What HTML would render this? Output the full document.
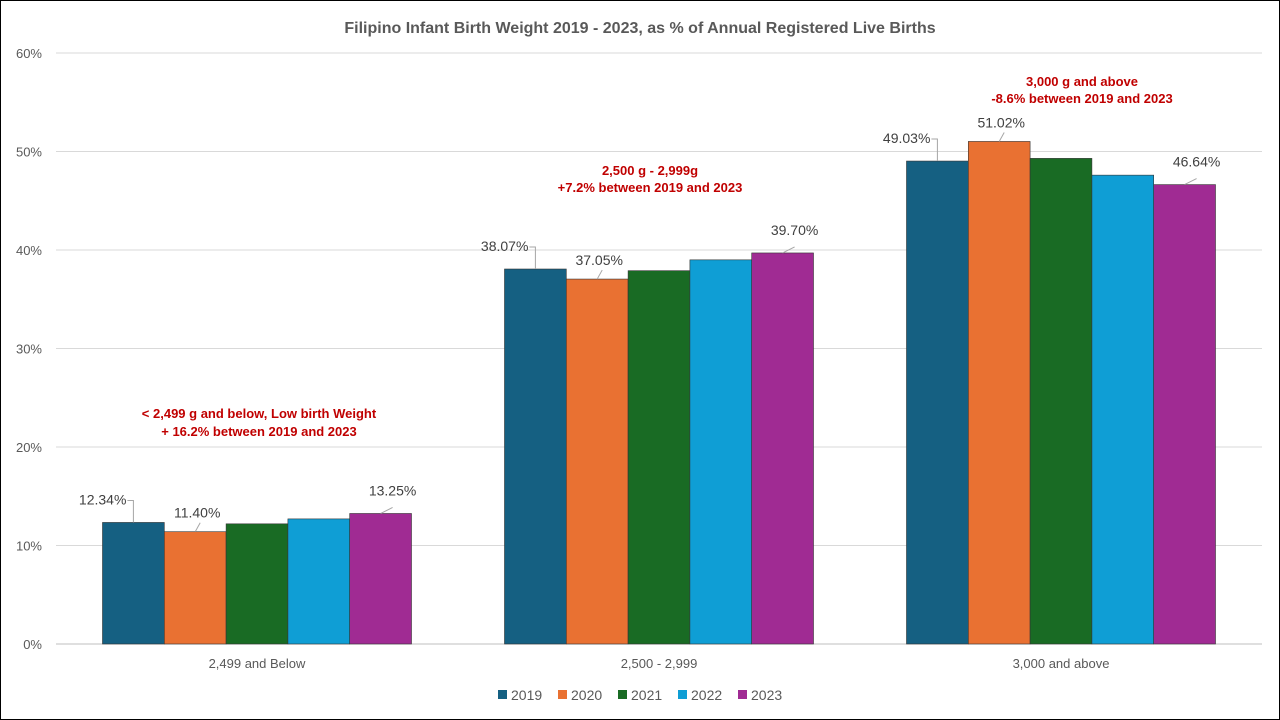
<!DOCTYPE html>
<html><head><meta charset="utf-8"><style>
body{margin:0;background:#fff;}
svg{display:block;font-family:"Liberation Sans",Arial,sans-serif;}
</style></head><body>
<svg id="chart" width="1280" height="720">
<rect x="0.5" y="0.5" width="1279" height="719" fill="#fff" stroke="#000"/>
<text x="640" y="33" text-anchor="middle" font-size="16" font-weight="bold" fill="#595959">Filipino Infant Birth Weight 2019 - 2023, as % of Annual Registered Live Births</text>
<g id="grid"></g><g id="bars"></g><g id="labels"></g><g id="legend"></g>
<text x="259" y="418" text-anchor="middle" font-size="13" font-weight="bold" fill="#c00000">&lt; 2,499 g and below, Low birth Weight</text>
<text x="259" y="436" text-anchor="middle" font-size="13" font-weight="bold" fill="#c00000">+ 16.2% between 2019 and 2023</text>
<text x="650" y="175" text-anchor="middle" font-size="13" font-weight="bold" fill="#c00000">2,500 g - 2,999g</text>
<text x="650" y="192" text-anchor="middle" font-size="13" font-weight="bold" fill="#c00000">+7.2% between 2019 and 2023</text>
<text x="1082" y="86" text-anchor="middle" font-size="13" font-weight="bold" fill="#c00000">3,000 g and above</text>
<text x="1082" y="103" text-anchor="middle" font-size="13" font-weight="bold" fill="#c00000">-8.6% between 2019 and 2023</text>
</svg>
<script>
const categories=["2,499 and Below","2,500 - 2,999","3,000 and above"];
const years=["2019","2020","2021","2022","2023"];
const v2019=[12.34,38.07,49.03];
const v2020=[11.40,37.05,51.02];
const v2021=[12.2,37.9,49.3];
const v2022=[12.7,39.0,47.6];
const v2023=[13.25,39.70,46.64];
const ticks=[0,10,20,30,40,50,60];
const colors=["#156082","#e97132","#196b24","#0f9ed5","#a02b93"];
const series=[v2019,v2020,v2021,v2022,v2023];
const NS="http://www.w3.org/2000/svg";
const x0=56,x1=1262,y0=644,yTop=53;
const y=v=>y0-(v/60)*(y0-yTop);
const catW=(x1-x0)/categories.length, barW=61.8;
const bx=(c,s)=>x0+c*catW+catW/2-barW*2.5+s*barW;
function el(t,a,p){const e=document.createElementNS(NS,t);for(const k in a)e.setAttribute(k,a[k]);p.appendChild(e);return e;}
const grid=document.getElementById('grid'),bars=document.getElementById('bars'),labels=document.getElementById('labels'),legend=document.getElementById('legend');
ticks.forEach(t=>{
 const l=el('line',{x1:x0,x2:x1,y1:y(t),y2:y(t),stroke:t===0?'#bfbfbf':'#d9d9d9'},grid);
 
 
 const tx=el('text',{x:42,y:y(t)+5,'text-anchor':'end','font-size':13,fill:'#595959'},grid);
 tx.textContent=t+'%';
 
 
});
categories.forEach((c,ci)=>{
 const tx=el('text',{x:x0+ci*catW+catW/2,y:668,'text-anchor':'middle','font-size':13,fill:'#595959'},grid);
 tx.textContent=c;
 
 
 series.forEach((s,si)=>{
  const r=el('rect',{x:bx(ci,si),y:y(s[ci]),width:barW,height:y0-y(s[ci]),fill:colors[si],stroke:'#333','stroke-width':0.6},bars);
  
  
 });
});
categories.forEach((c,ci)=>{
 // 2019
 let v=v2019[ci],cx=bx(ci,0)+barW/2,ty=y(v);
 let ln=el('polyline',{points:`${cx-6},${ty-22} ${cx},${ty-22} ${cx},${ty}`,fill:'none',stroke:'#a6a6a6','stroke-width':1},labels);
 
 
 let tx=el('text',{x:cx-7,y:ty-18,'text-anchor':'end','font-size':14,fill:'#404040'},labels);
 tx.textContent=v.toFixed(2)+'%';
 
 
 // 2020
 v=v2020[ci];cx=bx(ci,1)+barW/2;ty=y(v);
 ln=el('polyline',{points:`${cx},${ty} ${cx+5},${ty-9}`,fill:'none',stroke:'#a6a6a6','stroke-width':1},labels);
 
 
 tx=el('text',{x:cx+2,y:ty-14,'text-anchor':'middle','font-size':14,fill:'#404040'},labels);
 tx.textContent=v.toFixed(2)+'%';
 
 
 // 2023
 v=v2023[ci];cx=bx(ci,4)+barW/2;ty=y(v);
 ln=el('polyline',{points:`${cx},${ty} ${cx+12},${ty-6}`,fill:'none',stroke:'#a6a6a6','stroke-width':1},labels);
 
 
 tx=el('text',{x:cx+12,y:ty-18,'text-anchor':'middle','font-size':14,fill:'#404040'},labels);
 tx.textContent=v.toFixed(2)+'%';
 
 
});
years.forEach((yr,i)=>{
 const lx=498+i*60;
 const r=el('rect',{x:lx,y:690,width:9,height:9,fill:colors[i]},legend);
 
 
 const tx=el('text',{x:lx+13,y:700,'font-size':14,fill:'#595959'},legend);
 tx.textContent=yr;
 
 
});
</script>
</body></html>
